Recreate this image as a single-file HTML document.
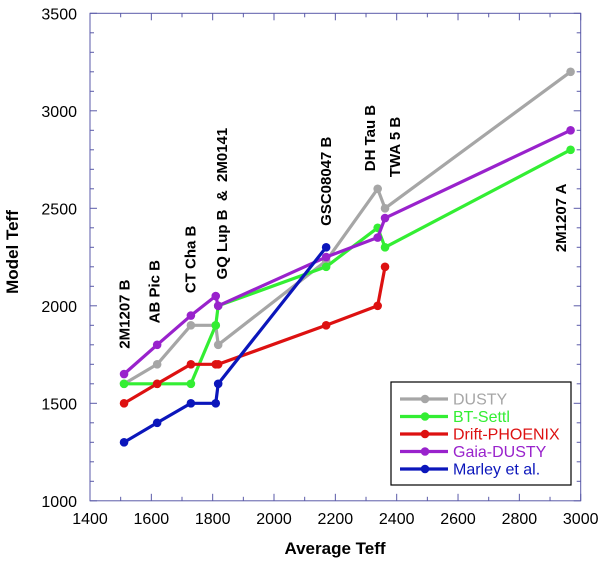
<!DOCTYPE html>
<html><head><meta charset="utf-8"><style>
html,body{margin:0;padding:0;background:#fff;}
svg{display:block;font-family:"Liberation Sans",Arial,sans-serif;}
</style></head><body>
<svg id="chart" width="600" height="561" viewBox="0 0 600 561" xmlns="http://www.w3.org/2000/svg">
<g id="axes"></g>
<g id="series"></g>
<g id="labels"></g>
<text x="335" y="554" text-anchor="middle" font-weight="bold" font-size="17">Average Teff</text>
<text transform="translate(18,252) rotate(-90)" text-anchor="middle" font-weight="bold" font-size="17">Model Teff</text>
<g id="legend">
<rect x="391" y="382" width="180" height="103" fill="#fff" stroke="#000" stroke-width="1.2"/>
</g>
</svg>
<script>
const xTicks=[1400,1600,1800,2000,2200,2400,2600,2800,3000];
const yTicks=[1000,1500,2000,2500,3000,3500];
const seriesNames=["DUSTY","BT-Settl","Drift-PHOENIX","Gaia-DUSTY","Marley et al."];
const seriesColors=["#a6a6a6","#33ee33","#dd1111","#9922cc","#0b16bb"];
const dustyX=[1511,1619,1729,1810,1818,2170,2338,2362,2967];
const dustyY=[1600,1700,1900,1900,1800,2230,2600,2500,3200];
const settlX=[1511,1619,1729,1810,1818,2170,2338,2362,2967];
const settlY=[1600,1600,1600,1900,2000,2200,2400,2300,2800];
const driftX=[1511,1619,1729,1810,1818,2170,2338,2362];
const driftY=[1500,1600,1700,1700,1700,1900,2000,2200];
const gaiaX=[1511,1619,1729,1810,1818,2170,2338,2362,2967];
const gaiaY=[1650,1800,1950,2050,2000,2250,2350,2450,2900];
const marleyX=[1511,1619,1729,1810,1818,2170];
const marleyY=[1300,1400,1500,1500,1600,2300];
const objNames=["2M1207 B","AB Pic B","CT Cha B","GQ Lup B  &  2M0141","GSC08047 B","DH Tau B","TWA 5 B","2M1207 A"];
const objX=[1512,1610,1727,1830,2170,2313,2395,2935];
const objY=[1780,1910,2065,2135,2410,2690,2660,2275];

const NS="http://www.w3.org/2000/svg";
const X0=90,X1=580.7,Y0=500.8,Y1=13.3;
const sx=v=>X0+(v-1400)/1600*(X1-X0);
const sy=v=>Y0-(v-1000)/2500*(Y0-Y1);
function mk(tag,attrs,parent){const e=document.createElementNS(NS,tag);for(const k in attrs)e.setAttribute(k,attrs[k]);parent.appendChild(e);return e;}
const axes=document.getElementById('axes');
const ac="#5a5aa8";
const frame=mk('rect',{x:X0,y:Y1,width:X1-X0,height:Y0-Y1,fill:"none",stroke:ac,"stroke-width":1},axes);


for(let v=1400;v<=3000;v+=100){
  const major=(v%200===0);const L=major?7:4;const x=sx(v);
  const t1=mk('line',{x1:x,x2:x,y1:Y0,y2:Y0-L,stroke:ac,"stroke-width":1},axes);
  
  
  const t2=mk('line',{x1:x,x2:x,y1:Y1,y2:Y1+L,stroke:ac,"stroke-width":1},axes);
  
  
}
for(let v=1000;v<=3500;v+=100){
  const major=(v%500===0);const L=major?7:4;const y=sy(v);
  const t1=mk('line',{x1:X0,x2:X0+L,y1:y,y2:y,stroke:ac,"stroke-width":1},axes);
  
  
  const t2=mk('line',{x1:X1,x2:X1-L,y1:y,y2:y,stroke:ac,"stroke-width":1},axes);
  
  
}
xTicks.forEach(v=>{const t=mk('text',{x:sx(v),y:524,"text-anchor":"middle","font-size":"16"},axes);t.textContent=v;
  
  });
yTicks.forEach(v=>{const t=mk('text',{x:77,y:sy(v)+6,"text-anchor":"end","font-size":"16"},axes);t.textContent=v;
  
  });

const allX=[dustyX,settlX,driftX,gaiaX,marleyX];
const allY=[dustyY,settlY,driftY,gaiaY,marleyY];
const keys=["dusty","bt-settl","drift-phoenix","gaia-dusty","marley"];
const sg=document.getElementById('series');
allX.forEach((xs,i)=>{
  const g=mk('g',{},sg);
  
  
  const pts=xs.map((x,j)=>sx(x)+","+sy(allY[i][j])).join(" ");
  const pl=mk('polyline',{points:pts,fill:"none",stroke:seriesColors[i],"stroke-width":3.2,"stroke-linejoin":"round"},g);
  
  
  xs.forEach((x,j)=>{const c=mk('circle',{cx:sx(x),cy:sy(allY[i][j]),r:4.3,fill:seriesColors[i]},g);
    
    });
});
const lg=document.getElementById('labels');
objNames.forEach((n,i)=>{
  const t=mk('text',{transform:`translate(${sx(objX[i])+5},${sy(objY[i])}) rotate(-90)`,"font-size":"15","font-weight":"bold"},lg);
  t.textContent=n;t.setAttribute('xml:space','preserve');t.style.whiteSpace='pre';
  
  
});
const leg=document.getElementById('legend');
seriesNames.forEach((n,i)=>{
  const y=399+i*17.5;
  const g=mk('g',{},leg);
  
  
  mk('line',{x1:400,x2:448,y1:y,y2:y,stroke:seriesColors[i],"stroke-width":3.2},g);
  mk('circle',{cx:425,cy:y,r:4.3,fill:seriesColors[i]},g);
  const t=mk('text',{x:453,y:y+5.5,"font-size":"16",fill:seriesColors[i]},g);t.textContent=n;
});
</script>
</body></html>
